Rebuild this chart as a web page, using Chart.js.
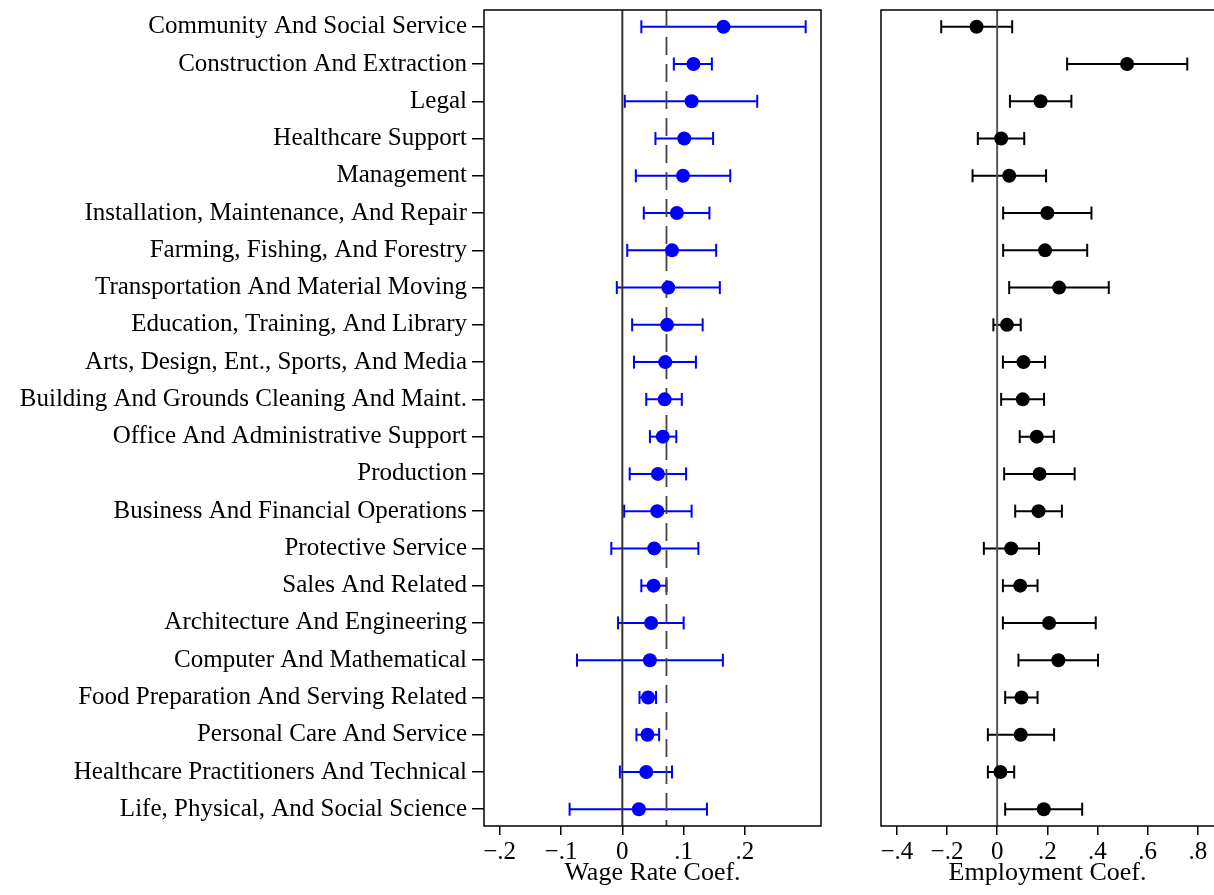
<!DOCTYPE html>
<html>
<head>
<meta charset="utf-8">
<script src="https://cdn.jsdelivr.net/npm/chart.js@4.4.0/dist/chart.umd.min.js"></script>
<style>
  html, body { margin: 0; padding: 0; background: #fff; overflow: hidden; }
  #wrap { position: relative; width: 1214px; height: 895px; }
  #wageBox { position: absolute; left: 0; top: 0; width: 835px; height: 895px; }
  #empBox { position: absolute; left: 840px; top: 0; width: 374px; height: 895px; }
</style>
</head>
<body>
<div id="wrap">
  <div id="wageBox"><canvas id="wageChart"></canvas></div>
  <div id="empBox"><canvas id="empChart"></canvas></div>
</div>
<script>
const occupations = [
  'Community And Social Service',
  'Construction And Extraction',
  'Legal',
  'Healthcare Support',
  'Management',
  'Installation, Maintenance, And Repair',
  'Farming, Fishing, And Forestry',
  'Transportation And Material Moving',
  'Education, Training, And Library',
  'Arts, Design, Ent., Sports, And Media',
  'Building And Grounds Cleaning And Maint.',
  'Office And Administrative Support',
  'Production',
  'Business And Financial Operations',
  'Protective Service',
  'Sales And Related',
  'Architecture And Engineering',
  'Computer And Mathematical',
  'Food Preparation And Serving Related',
  'Personal Care And Service',
  'Healthcare Practitioners And Technical',
  'Life, Physical, And Social Science'
];

// wage rate coefficients with confidence bounds
const wageCoef = [0.165, 0.116, 0.113, 0.101, 0.099, 0.089, 0.081, 0.075, 0.073, 0.070, 0.069, 0.066,
                  0.058, 0.057, 0.052, 0.051, 0.047, 0.045, 0.042, 0.041, 0.039, 0.027];
const wageLow = [0.031, 0.084, 0.004, 0.054, 0.022, 0.035, 0.008, -0.009, 0.016, 0.019, 0.039, 0.045,
                 0.012, 0.003, -0.018, 0.031, -0.007, -0.074, 0.028, 0.023, -0.004, -0.086];
const wageHigh = [0.299, 0.146, 0.220, 0.148, 0.176, 0.142, 0.153, 0.159, 0.131, 0.120, 0.097, 0.088,
                  0.104, 0.113, 0.124, 0.072, 0.100, 0.164, 0.055, 0.060, 0.081, 0.138];
const wageMean = 0.072;

// employment coefficients with confidence bounds
const empCoef = [-0.082, 0.518, 0.173, 0.016, 0.048, 0.200, 0.191, 0.247, 0.039, 0.105, 0.102, 0.158,
                 0.169, 0.165, 0.056, 0.092, 0.207, 0.244, 0.097, 0.094, 0.013, 0.186];
const empLow = [-0.223, 0.279, 0.051, -0.077, -0.098, 0.024, 0.024, 0.048, -0.015, 0.023, 0.016, 0.090,
                0.028, 0.072, -0.053, 0.023, 0.023, 0.085, 0.032, -0.037, -0.037, 0.032];
const empHigh = [0.060, 0.758, 0.296, 0.108, 0.195, 0.376, 0.359, 0.445, 0.094, 0.191, 0.187, 0.226,
                 0.309, 0.258, 0.167, 0.161, 0.393, 0.402, 0.161, 0.227, 0.068, 0.339];

const wageTicks = [-0.2, -0.1, 0, 0.1, 0.2];
const empTicks = [-0.4, -0.2, 0, 0.2, 0.4, 0.6, 0.8];

const serif = { family: '"Liberation Serif", "Times New Roman", serif', size: 25 };
const titleFont = { family: '"Liberation Serif", "Times New Roman", serif', size: 26 };
const rowMin = 0.55;
const rowMax = occupations.length + 0.45;

function formatTick(v) {
  if (Math.abs(v) < 1e-9) return '0';
  const s = Math.abs(v).toFixed(1).replace(/^0/, '');
  return (v < 0 ? '\u2212' : '') + s;
}

const framePlugin = {
  id: 'frame',
  afterDatasetsDraw(chart, args, opts) {
    const {ctx, chartArea: a} = chart;
    ctx.save();
    ctx.strokeStyle = '#000';
    ctx.lineWidth = 1.5;
    ctx.beginPath();
    if (opts.openRight) {
      ctx.moveTo(a.right, a.top);
      ctx.lineTo(a.left, a.top);
      ctx.lineTo(a.left, a.bottom);
      ctx.lineTo(a.right, a.bottom);
    } else {
      ctx.rect(a.left, a.top, a.right - a.left, a.bottom - a.top);
    }
    ctx.stroke();
    ctx.restore();
  }
};

function coefChart(canvasId, cfg) {
  const datasets = [];

  // point estimates on top
  datasets.push({
    data: cfg.coef.map((v, i) => ({x: v, y: i + 1})),
    pointRadius: 7,
    pointHoverRadius: 7,
    backgroundColor: cfg.color,
    borderWidth: 0,
    order: 0
  });

  // vertical reference lines
  cfg.refLines.forEach(r => {
    datasets.push({
      data: [{x: r.value, y: rowMin}, {x: r.value, y: rowMax}],
      showLine: true,
      borderColor: r.color,
      borderWidth: r.width,
      borderDash: r.dash || [],
      pointRadius: 0,
      order: 1
    });
  });

  // confidence intervals with caps
  cfg.coef.forEach((v, i) => {
    datasets.push({
      data: [{x: cfg.low[i], y: i + 1}, {x: cfg.high[i], y: i + 1}],
      showLine: true,
      borderColor: cfg.color,
      borderWidth: 2,
      pointStyle: 'line',
      pointRotation: 90,
      pointRadius: 6.5,
      pointHoverRadius: 6.5,
      pointBorderColor: cfg.color,
      pointBorderWidth: 2,
      order: 2
    });
  });

  return new Chart(document.getElementById(canvasId), {
    type: 'scatter',
    data: { datasets },
    options: {
      responsive: true,
      maintainAspectRatio: false,
      animation: false,
      events: [],
      layout: { padding: cfg.padding, autoPadding: false },
      plugins: {
        legend: { display: false },
        tooltip: { enabled: false },
        frame: { openRight: cfg.openRight }
      },
      scales: {
        x: {
          type: 'linear',
          min: cfg.xMin,
          max: cfg.xMax,
          afterBuildTicks: s => { s.ticks = cfg.ticks.map(v => ({value: v})); },
          afterFit: s => { s.height = 69; s.paddingLeft = 0; s.paddingRight = 0; },
          ticks: {
            callback: v => formatTick(v),
            font: serif,
            color: '#000',
            padding: 2,
            maxRotation: 0,
            autoSkip: false
          },
          grid: { drawOnChartArea: false, tickLength: 9, color: '#000', lineWidth: 1.5 },
          border: { display: false },
          title: {
            display: true,
            text: cfg.title,
            font: titleFont,
            color: '#000',
            padding: { top: 0, bottom: 6 }
          }
        },
        y: {
          type: 'linear',
          reverse: true,
          min: rowMin,
          max: rowMax,
          display: cfg.showLabels,
          afterBuildTicks: s => { s.ticks = occupations.map((o, i) => ({value: i + 1})); },
          afterFit: s => { s.width = cfg.yWidth; s.paddingTop = 0; s.paddingBottom = 0; },
          ticks: {
            callback: v => occupations[Math.round(v) - 1],
            font: serif,
            color: '#000',
            padding: 5,
            autoSkip: false
          },
          grid: { drawOnChartArea: false, tickLength: 12, color: '#000', lineWidth: 1.5 },
          border: { display: false }
        }
      }
    },
    plugins: [framePlugin]
  });
}

coefChart('wageChart', {
  coef: wageCoef, low: wageLow, high: wageHigh,
  color: '#0000ff',
  xMin: -0.2256, xMax: 0.324,
  ticks: wageTicks,
  title: 'Wage Rate Coef.',
  showLabels: true,
  yWidth: 484,
  padding: { top: 10, right: 14, bottom: 0, left: 0 },
  openRight: false,
  refLines: [
    { value: 0, color: '#333', width: 2 },
    { value: wageMean, color: '#444', width: 1.8, dash: [18, 9] }
  ]
});

coefChart('empChart', {
  coef: empCoef, low: empLow, high: empHigh,
  color: '#000',
  xMin: -0.463, xMax: 0.8645,
  ticks: empTicks,
  title: 'Employment Coef.',
  showLabels: false,
  yWidth: 0,
  padding: { top: 10, right: 0, bottom: 0, left: 41 },
  openRight: true,
  refLines: [
    { value: 0, color: '#555', width: 2 }
  ]
});
</script>
</body>
</html>
